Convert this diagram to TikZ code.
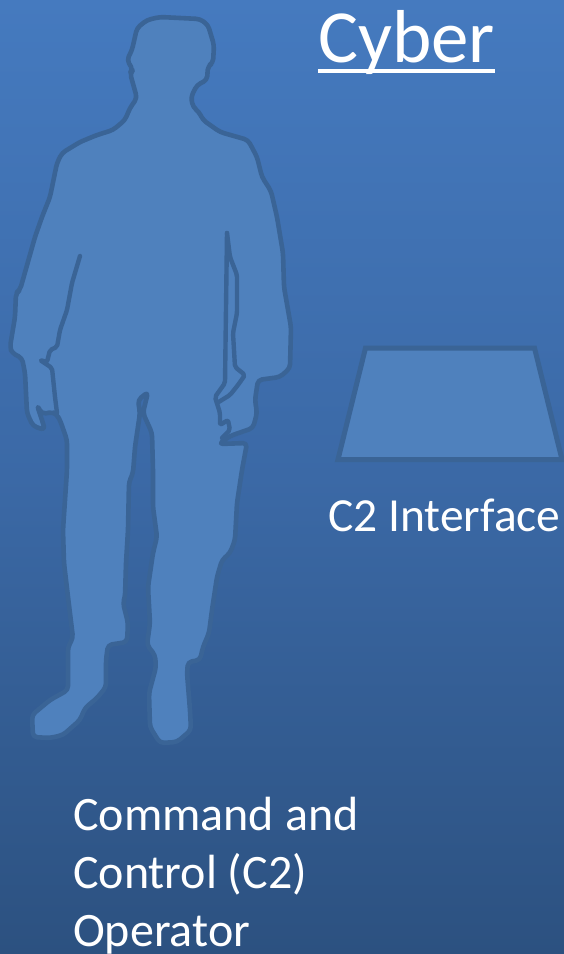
\documentclass[tikz,border=0pt]{standalone}
\usepackage{fontspec}
\setmainfont{Carlito}
\usepackage{xcolor}
\usetikzlibrary{calc}

\definecolor{bgtop}{HTML}{457ABF}
\definecolor{bgmid}{HTML}{3B69A6}
\definecolor{bgbot}{HTML}{2C5180}
\definecolor{bodyfill}{HTML}{4F81BD}
\definecolor{bodyline}{HTML}{3A6496}

\begin{document}
\begin{tikzpicture}[
  x=1pt, y=-1pt,
  bodyshape/.style={draw=bodyline, fill=bodyfill, line width=4.6pt, line join=round, rounded corners=4pt},
  bodycrease/.style={draw=bodyline, line width=4.4pt, line join=round, line cap=round, rounded corners=2pt},
  panel/.style={draw=bodyline, fill=bodyfill, line width=5pt, line join=miter},
  label/.style={text=white, inner sep=0pt, align=left},
]

\useasboundingbox (0,0) rectangle (564,954);
\shade[top color=bgtop, bottom color=bgbot, middle color=bgmid] (0,0) rectangle (564,954);

% operator silhouette, clockwise from the top of the head
\path[bodyshape] (160,17) -- (200,19) -- (208,25) -- (214,45) -- (213,63) -- (208,66) -- (207,80)
  -- (197,85) -- (191,97) -- (193,107) -- (199,112) -- (203,120) -- (220,132) -- (248,140)
  -- (257,157) -- (262,177) -- (271,191) -- (277,217) -- (283,253) -- (284,287) -- (291,327)
  -- (290,368) -- (280,377) -- (258,380) -- (255,400) -- (257,413) -- (253,428) -- (230,436)
  -- (219,444) -- (247,443) -- (242,470) -- (237,503) -- (235,540) -- (230,553) -- (222,560)
  -- (217,577) -- (212,610) -- (209,633) -- (203,647) -- (200,660) -- (188,662) -- (187,673)
  -- (190,710) -- (191,730) -- (177,742) -- (160,743) -- (150,727) -- (149,693) -- (156,667)
  -- (155,655) -- (147,645) -- (150,623) -- (148,587) -- (153,553) -- (157,537) -- (153,507)
  -- (153,470) -- (152,433) -- (143,413) -- (148,392) -- (138,400) -- (140,413) -- (135,447)
  -- (133,473) -- (129,482) -- (128,530) -- (126,563) -- (125,597) -- (123,603) -- (128,623)
  -- (127,642) -- (108,645) -- (106,660) -- (106,687) -- (97,698) -- (85,708) -- (80,720)
  -- (63,735) -- (50,738) -- (33,737) -- (32,715) -- (50,700) -- (68,690) -- (68,647)
  -- (73,638) -- (68,597) -- (64,563) -- (63,530) -- (67,470) -- (67,440) -- (60,420)
  -- (57,415) -- (53,412) -- (42,414) -- (37,405) -- (42,420) -- (45,430) -- (33,426)
  -- (27,413) -- (25,373) -- (22,358) -- (12,353) -- (10,347) -- (15,317) -- (16,293)
  -- (20,290) -- (35,237) -- (42,217) -- (50,197) -- (57,163) -- (62,153) -- (80,142)
  -- (97,135) -- (113,130) -- (125,120) -- (130,108) -- (137,98) -- (130,73) -- (133,70)
  -- (127,60) -- (132,50) -- (137,28) -- (147,20) -- cycle;

% arm creases
\path[bodycrease] (80,256) -- (72,283) -- (67,310) -- (60,330) -- (57,347) -- (50,350) -- (47,362)
  -- (40,360) -- (52,368) -- (55,397) -- (57,413);
\path[bodycrease] (227,233) -- (225,383) -- (215,397) -- (220,413) -- (220,425) -- (228,420)
  -- (230,430) -- (222,438);
\path[bodycrease] (227,233) -- (230,257) -- (237,275) -- (237,313) -- (233,333) -- (235,367)
  -- (245,375) -- (238,385) -- (230,395) -- (217,403);

\path[panel] (365.5,348) -- (534.5,348) -- (562,459.5) -- (338,459.5) -- cycle;

\node[label, anchor=base west, font=\fontsize{75}{75}\selectfont] (cyber) at (318,62.5) {Cyber};
\draw[white, line width=3.2pt] ($(cyber.base west)+(0,8.5)$) -- ($(cyber.base east)+(0,8.5)$);
\node[label, anchor=base west, font=\fontsize{47.5}{47.5}\selectfont] (iface) at (328,531) {C2 Interface};
\node[label, anchor=north west, font=\fontsize{48}{58}\selectfont] (operator) at (73,797) {Command and\\Control (C2)\\Operator};

\end{tikzpicture}
\end{document}
